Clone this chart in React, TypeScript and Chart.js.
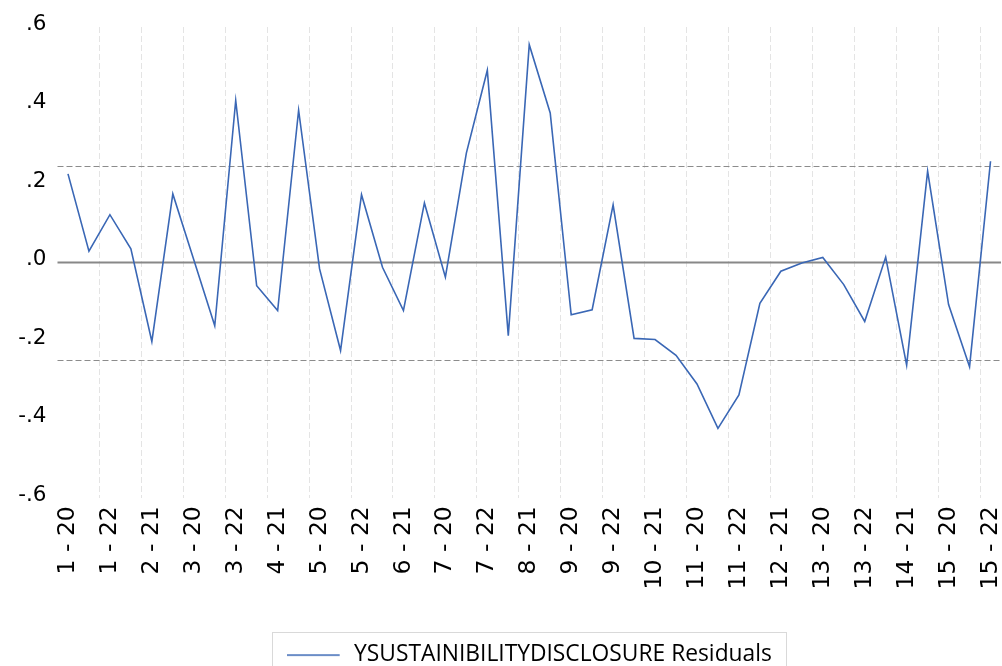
import React, { useEffect, useRef } from "react";
import { Chart, registerables } from "chart.js";

Chart.register(...registerables);

const categories = [
  "1 - 20", "1 - 21", "1 - 22",
  "2 - 20", "2 - 21", "2 - 22",
  "3 - 20", "3 - 21", "3 - 22",
  "4 - 20", "4 - 21", "4 - 22",
  "5 - 20", "5 - 21", "5 - 22",
  "6 - 20", "6 - 21", "6 - 22",
  "7 - 20", "7 - 21", "7 - 22",
  "8 - 20", "8 - 21", "8 - 22",
  "9 - 20", "9 - 21", "9 - 22",
  "10 - 20", "10 - 21", "10 - 22",
  "11 - 20", "11 - 21", "11 - 22",
  "12 - 20", "12 - 21", "12 - 22",
  "13 - 20", "13 - 21", "13 - 22",
  "14 - 20", "14 - 21", "14 - 22",
  "15 - 20", "15 - 21", "15 - 22",
];

const residuals = [
  0.226, 0.029, 0.122,
  0.035, -0.201, 0.175,
  0.007, -0.161, 0.413,
  -0.059, -0.122, 0.388,
  -0.016, -0.224, 0.173,
  -0.012, -0.122, 0.152,
  -0.037, 0.279, 0.49,
  -0.186, 0.555, 0.381,
  -0.133, -0.12, 0.147,
  -0.193, -0.196, -0.236,
  -0.309, -0.422, -0.337,
  -0.104, -0.022, -0.001,
  0.013, -0.056, -0.15,
  0.014, -0.261, 0.233,
  -0.107, -0.265, 0.258,
];

const yTickValues = [-0.6, -0.4, -0.2, 0, 0.2, 0.4, 0.6];
const zeroLine = [0];
const bandLimits = [0.247, -0.247];
const seriesLabel = "YSUSTAINIBILITYDISCLOSURE Residuals";
const labelEvery = 2;

const W = 1002;
const H = 666;
const LINE_COLOR = "#3a67b5";

function fmtY(v: number): string {
  const s = Number(v).toFixed(1);
  return s.replace(/^(-?)0\./, "$1.");
}

export default function App() {
  const ref = useRef<HTMLCanvasElement | null>(null);

  useEffect(() => {
    if (!ref.current) return;

    const swatch = document.createElement("canvas");
    swatch.width = 56;
    swatch.height = 6;
    const sctx = swatch.getContext("2d")!;
    sctx.strokeStyle = LINE_COLOR;
    sctx.lineWidth = 1.6;
    sctx.beginPath();
    sctx.moveTo(0, 4);
    sctx.lineTo(53, 4);
    sctx.stroke();

    const refLines = {
      id: "refLines",
      afterLayout(chart: any) {
        const lg = chart.legend;
        if (!lg) return;
        // legend centred under the plot area and placed lower, as in the reference
        lg.left = chart.chartArea.left;
        lg.top += 9.5;
        lg.bottom += 9.5;
      },
      beforeDatasetsDraw(chart: any) {
        const { ctx, chartArea: a, scales } = chart;
        const y = scales.y;
        ctx.save();
        zeroLine.forEach((v) => {
          const py = y.getPixelForValue(v);
          ctx.strokeStyle = "#888888";
          ctx.lineWidth = 2;
          ctx.setLineDash([]);
          ctx.beginPath();
          ctx.moveTo(a.left, py);
          ctx.lineTo(a.right, py);
          ctx.stroke();
        });
        bandLimits.forEach((v) => {
          const py = Math.round(y.getPixelForValue(v)) + 0.5;
          ctx.strokeStyle = "#8c8c8c";
          ctx.lineWidth = 1;
          ctx.setLineDash([6, 3]);
          ctx.beginPath();
          ctx.moveTo(a.left, py);
          ctx.lineTo(a.right, py);
          ctx.stroke();
        });
        ctx.restore();
      },
      afterDraw(chart: any) {
        const lg = chart.legend;
        if (!lg || !lg.legendHitBoxes || !lg.legendHitBoxes[0]) return;
        const hb = lg.legendHitBoxes[0];
        const { ctx } = chart;
        ctx.save();
        ctx.strokeStyle = "#d9d9d9";
        ctx.lineWidth = 1;
        ctx.setLineDash([]);
        ctx.strokeRect(Math.round(hb.left - 15) + 0.5, Math.round(hb.top - 11) + 0.5, Math.round(hb.width + 29), 80);
        ctx.restore();
      },
    };

    const chart = new Chart(ref.current, {
      type: "line",
      data: {
        labels: categories,
        datasets: [
          {
            label: seriesLabel,
            data: residuals,
            borderColor: LINE_COLOR,
            backgroundColor: LINE_COLOR,
            borderWidth: 1.6,
            pointRadius: 0,
            tension: 0,
            fill: false,
          },
        ],
      },
      options: {
        responsive: false,
        animation: false,
        devicePixelRatio: 1,
        layout: { padding: { top: 27, right: 1, left: 0, bottom: 0 } },
        plugins: {
          legend: {
            display: true,
            position: "bottom",
            labels: {
              usePointStyle: true,
              pointStyle: swatch as any,
              pointStyleWidth: 56,
              padding: 1,
              color: "#000000",
              font: { family: "'Open Sans'", size: 22.8 },
            },
          },
          tooltip: { enabled: false },
        },
        scales: {
          x: {
            type: "category",
            offset: true,
            grid: {
              offset: true,
              drawTicks: false,
              lineWidth: 1,
              color: (c: any) =>
                c.index > 0 && c.index % labelEvery === 0 ? "#e4e4e4" : "rgba(0,0,0,0)",
            },
            border: { display: false, dash: [6, 3] },
            ticks: {
              autoSkip: false,
              minRotation: 90,
              maxRotation: 90,
              padding: 8,
              color: "#000000",
              font: { family: "'DejaVu Sans'", size: 23.5 },
              callback: (_v: any, i: number) => (i % labelEvery === 0 ? categories[i] : ""),
            },
            afterFit: (s: any) => {
              s.height = 134;
              s.paddingLeft = 0;
              s.paddingRight = 0;
            },
          },
          y: {
            min: -0.6,
            max: 0.6,
            afterBuildTicks: (s: any) => {
              s.ticks = yTickValues.map((v) => ({ value: v }));
            },
            grid: { display: false, drawTicks: false },
            border: { display: false },
            ticks: {
              padding: 11,
              labelOffset: -3,
              color: "#000000",
              font: { family: "'DejaVu Sans'", size: 21.5 },
              callback: (v: any) => fmtY(Number(v)),
            },
            afterFit: (s: any) => {
              s.width = 57.5;
            },
          },
        },
      },
      plugins: [refLines],
    });

    return () => chart.destroy();
  }, []);

  return (
    <div style={{ position: "fixed", left: 0, top: 0, width: W, height: H, background: "#fff" }}>
      <canvas ref={ref} width={W} height={H} style={{ width: W, height: H, display: "block" }} />
    </div>
  );
}
